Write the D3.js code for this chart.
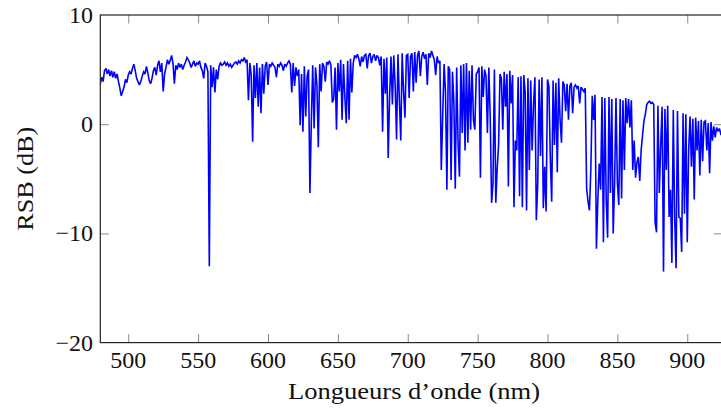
<!DOCTYPE html>
<html>
<head>
<meta charset="utf-8">
<script src="https://cdn.jsdelivr.net/npm/d3@7"></script>
<style>
  html, body { margin: 0; padding: 0; background: #fff; }
  svg { display: block; }
  text { font-family: "Liberation Serif", "DejaVu Serif", serif; fill: #111; }
</style>
</head>
<body>
<svg id="chart" width="721" height="409"></svg>
<script>
// ---- data ----
const wlStart = 480;   // first wavelength (nm), 1 nm sampling
const rsb = [
  3.7, 4.3, 3.9, 4.9, 5.1, 4.6, 5.0, 4.4, 4.9, 4.3,
  4.8, 4.2, 4.6, 3.9, 3.3, 2.6, 3.0, 3.4, 4.1, 3.8,
  4.5, 4.8, 4.6, 5.1, 5.5, 4.9, 4.2, 3.9, 3.6, 3.9,
  4.4, 4.8, 4.6, 5.3, 4.7, 4.0, 3.7, 4.2, 4.9, 5.2,
  4.5, 5.4, 5.8, 4.8, 5.6, 3.0, 4.6, 5.2, 5.9, 5.5,
  5.8, 6.3, 5.6, 3.7, 5.4, 5.0, 5.6, 5.2, 5.5, 5.0,
  5.4, 5.7, 6.1, 5.9, 5.6, 5.2, 5.5, 5.8, 5.3, 5.6,
  5.5, 5.8, 5.2, 4.9, 4.2, 5.6, 5.3, 4.8, -13.0, 5.4,
  3.4, 5.2, 2.9, 5.0, 4.1, 5.3, 5.6, 5.4, 5.5, 5.7,
  5.4, 5.6, 5.3, 5.5, 5.2, 5.4, 5.6, 5.7, 5.5, 5.8,
  5.6, 5.9, 5.8, 6.1, 5.7, 5.9, 2.2, 5.6, 4.5, -1.6,
  5.4, 2.4, 5.6, 1.6, 5.2, 1.0, 5.5, 2.8, 5.3, 5.7,
  3.6, 5.5, 5.3, 5.6, 5.4, 5.2, 4.3, 5.5, 5.3, 5.6,
  5.4, 4.9, 5.5, 5.3, 5.6, 5.8, 5.5, 2.9, 5.6, 3.5,
  5.2, 4.4, 5.0, -0.1, 4.6, -0.7, 5.3, 0.7, 4.4, 5.0,
  -6.3, 0.2, 5.4, -0.4, 5.2, 3.6, -2.1, 5.5, 3.0, 5.6,
  5.3, 3.9, 5.7, 5.5, 5.8, 5.4, 2.0, 2.3, 5.2, -0.5,
  5.6, 3.0, 5.9, 0.4, 5.5, 2.5, 0.1, 5.8, 0.4, 6.0,
  2.9, 5.6, 6.3, 6.1, 6.4, 6.0, 5.3, 6.2, 5.7, 6.3,
  6.4, 5.1, 6.3, 6.5, 5.6, 6.2, 6.4, 5.8, 6.3, 6.1,
  5.4, 6.2, -0.7, 6.0, 2.8, 6.1, -3.1, 2.5, 6.2, 1.8,
  6.3, 3.5, -1.4, 6.4, 2.2, -1.5, 6.5, 3.0, 0.6, 6.3,
  6.4, 2.4, 6.2, 6.5, 3.0, 6.6, 3.8, 6.3, 6.7, 4.4,
  6.2, 6.6, 6.0, 6.4, 3.6, 6.5, 6.1, 6.7, 6.3, 5.9,
  4.5, 6.2, 5.6, 5.8, -4.2, 0.7, 5.5, 3.0, -6.0, 5.3,
  5.0, -5.1, 4.8, 2.0, -5.9, 5.2, -1.7, -4.8, 5.4, -0.8,
  5.5, -2.4, 5.6, -1.7, 4.9, -0.5, 5.4, 0.4, -0.5, 4.6,
  4.8, 5.2, -4.9, 5.3, 2.5, 5.0, 4.4, -0.8, 5.2, 0.7,
  -7.2, -5.4, 5.0, -7.2, -4.0, -1.9, 4.6, 4.2, -0.5, 4.8,
  1.6, 4.6, -5.7, 4.9, 1.9, 4.5, -7.6, -1.5, -2.4, 4.3,
  -6.6, 4.4, -7.6, 4.5, 3.0, -7.9, 4.2, -4.2, 4.0, -2.4,
  1.9, 4.3, -8.8, -5.4, 4.1, -2.9, 4.3, -7.7, -3.9, -8.0,
  4.1, 3.5, -3.1, -7.1, 4.0, -1.9, 3.8, -4.4, 4.2, 0.4,
  -1.7, 3.9, 3.6, 1.2, 3.7, 0.4, 3.5, 3.8, 1.0, 3.4,
  3.6, 3.3, 3.5, 1.9, 3.4, 3.2, 3.0, 3.3, -5.9, -7.1,
  -7.9, -4.2, 2.6, 0.4, 2.7, -11.4, -7.0, -3.6, -6.0, 2.5,
  -10.8, 2.4, -6.9, -10.4, 2.5, -6.3, 2.3, -10.0, -5.4, 2.4,
  -5.4, -7.4, 2.3, -6.8, 2.2, -4.2, 2.4, 0.1, 2.3, -0.3,
  2.2, -4.2, -1.5, -4.9, -3.5, -3.0, -5.2, -2.4, -1.0, 0.3,
  0.9, 1.8, 2.0, 2.1, 1.9, 2.0, 1.8, -9.0, -9.9, 1.7,
  -6.3, -1.9, 1.6, -13.5, 1.4, -4.2, 1.7, -8.5, -6.0, -12.7,
  1.3, -8.6, -13.2, 1.2, -8.5, -8.6, -11.7, 1.0, -8.2, 0.9,
  -10.8, -2.4, 0.7, -3.9, 0.5, -6.9, 0.6, -2.4, 0.3, -4.7,
  0.4, -3.4, 0.2, 0.3, -2.4, 0.1, -4.5, 0.2, -1.5, -0.2,
  -1.2, -0.3, -0.6, -0.4, -0.9, -0.8
];
const xTicks = [500, 550, 600, 650, 700, 750, 800, 850, 900];
const yTicks = [-20, -10, 0, 10];
const xDomain = [480, 925];
const yDomain = [-20, 10];
const xLabel = "Longueurs d\u2019onde (nm)";
const yLabel = "RSB (dB)";

// ---- layout ----
const svg = d3.select("#chart");
const L = 100.3, R = 722.2, T = 15, B = 342.6;
const x = d3.scaleLinear().domain(xDomain).range([L, R]);
const y = d3.scaleLinear().domain(yDomain).range([B, T]);
const tickLen = 8.5;
const data = rsb.map((v, i) => ({wl: wlStart + i, v}));

svg.append("defs").append("clipPath").attr("id", "clip")
  .append("rect").attr("x", L).attr("y", T).attr("width", R - L).attr("height", B - T);

// ticks (inward, all four sides) via d3 axes
const tickStyle = g => {
  g.select(".domain").remove();
  g.selectAll(".tick line").attr("stroke", "#8a8a8a").attr("stroke-width", 1);
  g.selectAll(".tick text").remove();
};
const innerY = yTicks.filter(t => t > yDomain[0] && t < yDomain[1]);
svg.append("g").attr("transform", `translate(0,${B})`)
  .call(d3.axisTop(x).tickValues(xTicks).tickSize(tickLen)).call(tickStyle);
svg.append("g").attr("transform", `translate(0,${T})`)
  .call(d3.axisBottom(x).tickValues(xTicks).tickSize(tickLen)).call(tickStyle);
svg.append("g").attr("transform", `translate(${L},0)`)
  .call(d3.axisRight(y).tickValues(innerY).tickSize(tickLen)).call(tickStyle);
svg.append("g").attr("transform", `translate(${R},0)`)
  .call(d3.axisLeft(y).tickValues(innerY).tickSize(tickLen)).call(tickStyle);

// data line
const line = d3.line().x(d => x(d.wl)).y(d => y(d.v));
svg.append("path").datum(data)
  .attr("clip-path", "url(#clip)")
  .attr("fill", "none").attr("stroke", "#0000ff").attr("stroke-width", 1.6)
  .attr("stroke-linejoin", "miter").attr("stroke-miterlimit", 2.5)
  .attr("d", line);

// frame
svg.append("rect").attr("x", L).attr("y", T).attr("width", R - L).attr("height", B - T)
  .attr("fill", "none").attr("stroke", "#222").attr("stroke-width", 1.2);

// tick labels
const fmt = v => (v < 0 ? "\u2212" + Math.abs(v) : String(v));
svg.append("g").selectAll("text").data(xTicks).join("text")
  .attr("x", d => x(d)).attr("y", 368)
  .attr("text-anchor", "middle").attr("font-size", 24)
  .text(fmt);
svg.append("g").selectAll("text").data(yTicks).join("text")
  .attr("x", 93).attr("y", d => y(d) + 8)
  .attr("text-anchor", "end").attr("font-size", 24)
  .text(fmt);

// axis labels
svg.append("text").attr("x", 414).attr("y", 399)
  .attr("text-anchor", "middle").attr("font-size", 24)
  .attr("textLength", 252).attr("lengthAdjust", "spacingAndGlyphs")
  .text(xLabel);
svg.append("text").attr("transform", `translate(33,${(T + B) / 2}) rotate(-90)`)
  .attr("text-anchor", "middle").attr("font-size", 24)
  .attr("textLength", 104).attr("lengthAdjust", "spacingAndGlyphs")
  .text(yLabel);
</script>
</body>
</html>
